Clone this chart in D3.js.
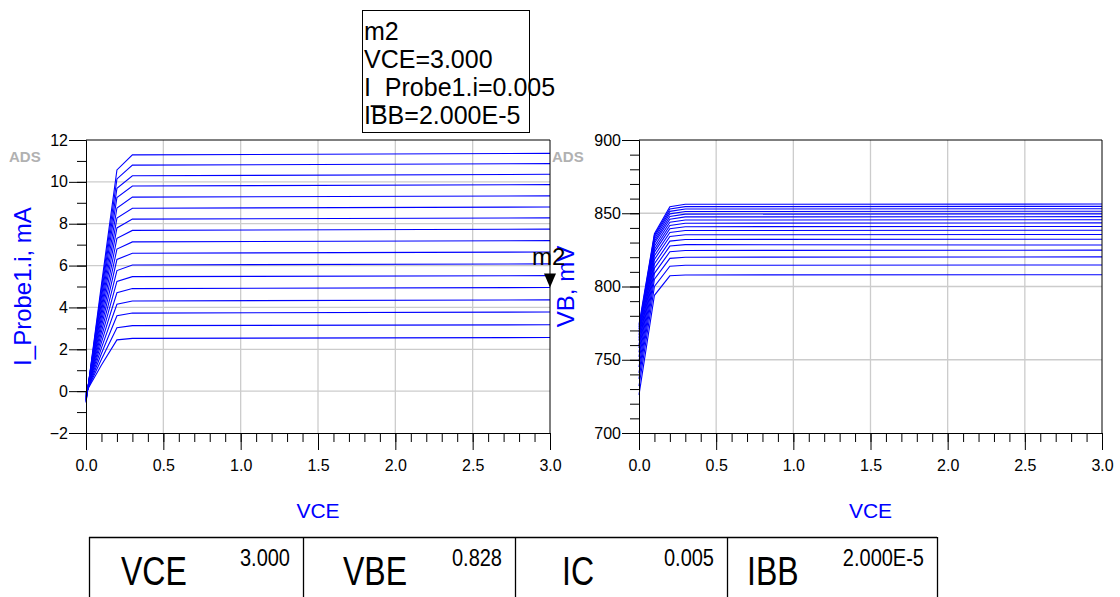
<!DOCTYPE html>
<html>
<head>
<meta charset="utf-8">
<script src="https://cdn.jsdelivr.net/npm/d3@7"></script>
<style>
  body { margin: 0; background: #fff; }
  svg { display: block; font-family: "Liberation Sans", Arial, sans-serif; }
</style>
</head>
<body>
<svg id="chart" width="1120" height="597"></svg>
<script>
// ---- DC sweep data: BJT output characteristics ----
// VCE sweep points (V)
const vceSweep = [0, 0.1, 0.2, 0.3, 3.0];
// Base current steps IBB (A)
const ibbSteps = [1.0e-5, 1.25e-5, 1.5e-5, 1.75e-5, 2.0e-5, 2.25e-5, 2.5e-5, 2.75e-5, 3.0e-5,
                  3.25e-5, 3.5e-5, 3.75e-5, 4.0e-5, 4.25e-5, 4.5e-5, 4.75e-5, 5.0e-5];

// Collector current I_Probe1.i (mA), one value per IBB step, at each VCE sweep point
const icAtVce0   = [-0.05, -0.08, -0.11, -0.14, -0.17, -0.20, -0.23, -0.26, -0.29, -0.32, -0.35, -0.38, -0.41, -0.44, -0.47, -0.51, -0.55];
const icAtVce0p1 = [1.25, 1.52, 1.80, 2.07, 2.33, 2.58, 2.83, 3.08, 3.32, 3.56, 3.80, 4.02, 4.25, 4.48, 4.69, 4.90, 5.10];
const icAtVce0p2 = [2.45, 3.03, 3.60, 4.15, 4.70, 5.24, 5.76, 6.29, 6.79, 7.30, 7.80, 8.27, 8.75, 9.25, 9.69, 10.14, 10.57];
const icAtVce0p3 = [2.52, 3.13, 3.73, 4.31, 4.90, 5.47, 6.03, 6.59, 7.13, 7.68, 8.22, 8.74, 9.27, 9.80, 10.29, 10.80, 11.29];
const icAtVce3   = [2.56, 3.17, 3.78, 4.36, 4.95, 5.52, 6.08, 6.65, 7.19, 7.74, 8.28, 8.80, 9.33, 9.87, 10.36, 10.87, 11.36];

// Base node voltage VB (mV), one value per IBB step, at each VCE sweep point
const vbAtVce0   = [726, 732, 737, 741, 745, 749, 752, 755, 758, 760, 763, 765, 767, 769, 771, 772.5, 774];
const vbAtVce0p1 = [794, 800, 805, 809, 812.5, 815.5, 818.5, 821, 823.5, 825.5, 827.5, 829.5, 831, 832.5, 834, 835, 836];
const vbAtVce0p2 = [807.3, 813.8, 819.2, 823.7, 827.6, 831.0, 834.1, 836.9, 839.4, 841.7, 843.9, 845.9, 847.8, 849.6, 851.3, 852.9, 854.5];
const vbAtVce0p3 = [807.9, 814.5, 820.0, 824.6, 828.6, 832.1, 835.3, 838.2, 840.8, 843.2, 845.4, 847.5, 849.4, 851.2, 852.9, 854.5, 856.1];
const vbAtVce3   = [808.0, 814.7, 820.2, 824.8, 828.3, 832.3, 835.5, 838.4, 841.0, 843.4, 845.6, 847.7, 849.6, 851.4, 853.1, 854.7, 856.3];

// Axis ticks
const vceTicks = [0, 0.5, 1.0, 1.5, 2.0, 2.5, 3.0];
const icTicks  = [-2, 0, 2, 4, 6, 8, 10, 12];
const vbTicks  = [700, 750, 800, 850, 900];

// Marker m2: last sweep point on the IBB = 2.000E-5 trace
const markerName = "m2";
const markerStep = 4;

// ---- drawing ----
const svg = d3.select("#chart");
const BLUE = "#0000ff";
const GRID = "#cccccc";

function drawPlot(cfg) {
  const g = svg.append("g");
  const x = d3.scaleLinear().domain([0, 3]).range([cfg.left, cfg.right]);
  const y = d3.scaleLinear().domain(cfg.domain).range([cfg.bottom, cfg.top]);

  // grid
  g.append("g").selectAll("line").data(vceTicks.filter(v => v > 0 && v < 3)).join("line")
    .attr("x1", d => x(d)).attr("x2", d => x(d)).attr("y1", cfg.top).attr("y2", cfg.bottom)
    .attr("stroke", GRID).attr("stroke-width", 1.3);
  g.append("g").selectAll("line").data(cfg.grid).join("line")
    .attr("y1", d => y(d)).attr("y2", d => y(d)).attr("x1", cfg.left).attr("x2", cfg.right)
    .attr("stroke", GRID).attr("stroke-width", 1.3);

  // traces
  const line = d3.line().x(d => x(d[0])).y(d => y(d[1]));
  const traces = ibbSteps.map((ib, i) => vceSweep.map((v, k) => [v, cfg.columns[k][i]]));
  g.append("g").selectAll("path").data(traces).join("path")
    .attr("d", line).attr("fill", "none").attr("stroke", BLUE).attr("stroke-width", 1.1);

  // frame: top and right edges
  g.append("line").attr("x1", cfg.left).attr("x2", cfg.right).attr("y1", cfg.top).attr("y2", cfg.top)
    .attr("stroke", "#000").attr("stroke-width", 1);
  g.append("line").attr("x1", cfg.right).attr("x2", cfg.right).attr("y1", cfg.top).attr("y2", cfg.bottom)
    .attr("stroke", "#000").attr("stroke-width", 1);

  // x axis: minor then major ticks
  const minorX = d3.range(0, 31).map(i => i / 10);
  g.append("g").attr("transform", `translate(0,${cfg.bottom})`)
    .call(d3.axisBottom(x).tickValues(minorX).tickSize(9).tickSizeOuter(0).tickFormat(""));
  const ax = g.append("g").attr("transform", `translate(0,${cfg.bottom})`)
    .call(d3.axisBottom(x).tickValues(vceTicks).tickSize(17).tickSizeOuter(0).tickPadding(10)
      .tickFormat(d3.format(".1f")));
  ax.selectAll("text").attr("font-size", 16).attr("fill", "#000").attr("font-family", "Liberation Sans");

  // y axis: minor then major ticks
  g.append("g").attr("transform", `translate(${cfg.left},0)`)
    .call(d3.axisLeft(y).tickValues(cfg.minorY).tickSize(9).tickSizeOuter(0).tickFormat(""));
  const ay = g.append("g").attr("transform", `translate(${cfg.left},0)`)
    .call(d3.axisLeft(y).tickValues(cfg.ticks).tickSize(17).tickSizeOuter(0).tickPadding(1));
  ay.selectAll("text").attr("font-size", 16).attr("fill", "#000").attr("font-family", "Liberation Sans");
  g.selectAll(".domain").attr("stroke", "#000");
  g.selectAll(".tick line").attr("stroke", "#000");

  // axis titles
  g.append("text").attr("x", (cfg.left + cfg.right) / 2).attr("y", 518)
    .attr("text-anchor", "middle").attr("font-size", 21).attr("fill", BLUE).text("VCE");
  g.append("text").attr("transform", `translate(${cfg.ylabelX},${(cfg.top + cfg.bottom) / 2}) rotate(-90)`)
    .attr("text-anchor", "middle").attr("font-size", 24).attr("fill", BLUE).text(cfg.ylabel);

  // product tag
  g.append("text").attr("x", cfg.tagX).attr("y", 162).attr("font-size", 15).attr("font-weight", "bold")
    .attr("fill", "#a9a9a9").attr("opacity", 0.9).text("ADS");

  return { x, y };
}

const icColumns = [icAtVce0, icAtVce0p1, icAtVce0p2, icAtVce0p3, icAtVce3];
const vbColumns = [vbAtVce0, vbAtVce0p1, vbAtVce0p2, vbAtVce0p3, vbAtVce3];

const left = drawPlot({
  left: 86, right: 550, top: 140, bottom: 433,
  domain: [-2, 12], ticks: icTicks, minorY: d3.range(-2, 13, 1), grid: [0, 2, 4, 6, 8, 10],
  columns: icColumns, ylabel: "I_Probe1.i, mA", ylabelX: 31, tagX: 9
});
const right = drawPlot({
  left: 639, right: 1102, top: 140, bottom: 433,
  domain: [700, 900], ticks: vbTicks, minorY: d3.range(700, 901, 10), grid: [750, 800, 850],
  columns: vbColumns, ylabel: "VB, mV", ylabelX: 574, tagX: 552
});

// marker m2 on the IC plot
const mVce = vceSweep[vceSweep.length - 1];
const mIc = icAtVce3[markerStep];          // mA
const mVb = vbAtVce3[markerStep];          // mV
const mx = left.x(mVce), my = left.y(mIc);
svg.append("path").attr("d", `M${mx - 6},${my - 14}L${mx + 6},${my - 14}L${mx},${my}Z`).attr("fill", "#000");
svg.append("text").attr("x", mx - 18).attr("y", my - 23).attr("font-size", 24).attr("fill", "#000").text(markerName);

// marker readout box
const fmt3 = d3.format(".3f");
const fmtE = v => v.toExponential(3).toUpperCase();
const boxG = svg.append("g");
boxG.append("rect").attr("x", 362.5).attr("y", 10.5).attr("width", 167).attr("height", 122)
  .attr("fill", "#fff").attr("stroke", "#000").attr("stroke-width", 1);
const lineH = 28;
const bx = 364, by = 40;
boxG.append("text").attr("x", bx).attr("y", by).attr("font-size", 25).text(markerName);
boxG.append("text").attr("x", bx).attr("y", by + lineH).attr("font-size", 25).text("VCE=" + fmt3(mVce));
const t3 = boxG.append("text").attr("x", bx).attr("y", by + 2 * lineH).attr("font-size", 25);
t3.append("tspan").text("I");
t3.append("tspan").attr("dy", 6).text("_");
t3.append("tspan").attr("dy", -6).text("Probe1.i=" + fmt3(mIc / 1000));
boxG.append("text").attr("x", bx).attr("y", by + 3 * lineH).attr("font-size", 25)
  .text("IBB=" + fmtE(ibbSteps[markerStep]));

// summary table at the marker point
const tableLabels = ["VCE", "VBE", "IC", "IBB"];
const tableValues = [fmt3(mVce), fmt3(mVb / 1000), fmt3(mIc / 1000), fmtE(ibbSteps[markerStep])];
const cellEdges = [89, 303, 515, 727, 937];
const labelInset = [32, 40, 47, 20];
const tg = svg.append("g");
tg.append("line").attr("x1", cellEdges[0]).attr("x2", cellEdges[4]).attr("y1", 537.5).attr("y2", 537.5)
  .attr("stroke", "#000").attr("stroke-width", 1.3);
tg.selectAll("line.v").data(cellEdges).join("line").attr("class", "v")
  .attr("x1", d => d + 0.5).attr("x2", d => d + 0.5).attr("y1", 537).attr("y2", 600)
  .attr("stroke", "#000").attr("stroke-width", 1.3);
tableLabels.forEach((lab, i) => {
  const lx = cellEdges[i] + labelInset[i];
  tg.append("text").attr("transform", `translate(${lx},585) scale(0.8,1)`)
    .attr("font-size", 40).attr("fill", "#000").text(lab);
  const vx = cellEdges[i + 1] - 13;
  tg.append("text").attr("transform", `translate(${vx},566) scale(0.87,1)`)
    .attr("text-anchor", "end").attr("font-size", 23).attr("fill", "#000").text(tableValues[i]);
});
</script>
</body>
</html>
